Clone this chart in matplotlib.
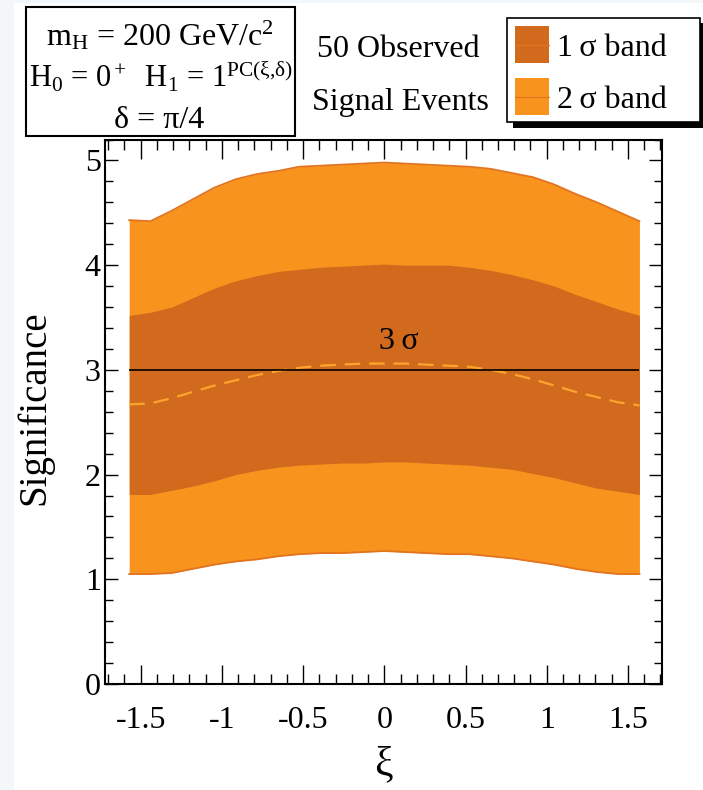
import numpy as np
import matplotlib
matplotlib.use('Agg')
import matplotlib.pyplot as plt
from matplotlib.patches import Rectangle
from matplotlib.ticker import MultipleLocator, FixedLocator, FixedFormatter

plt.rcParams['font.family'] = ['Liberation Serif', 'DejaVu Serif']
plt.rcParams['mathtext.fontset'] = 'custom'
plt.rcParams['mathtext.rm'] = 'Liberation Serif'
plt.rcParams['mathtext.it'] = 'Liberation Serif:italic'

# xi scan from -pi/2 to pi/2
xi = [-1.571, -1.440, -1.309, -1.178, -1.047, -0.916, -0.785, -0.654, -0.524,
      -0.393, -0.262, -0.131, 0.0, 0.131, 0.262, 0.393, 0.524, 0.654, 0.785,
      0.916, 1.047, 1.178, 1.309, 1.440, 1.571]

# 2 sigma band
two_hi = [4.43, 4.42, 4.52, 4.63, 4.74, 4.82, 4.87, 4.90, 4.94, 4.95, 4.96, 4.97, 4.98,
          4.97, 4.96, 4.95, 4.94, 4.92, 4.88, 4.84, 4.77, 4.68, 4.60, 4.51, 4.42]
two_lo = [1.05, 1.05, 1.06, 1.10, 1.14, 1.17, 1.19, 1.22, 1.24, 1.25, 1.25, 1.26, 1.27,
          1.26, 1.25, 1.24, 1.24, 1.22, 1.20, 1.17, 1.14, 1.10, 1.07, 1.05, 1.05]
# 1 sigma band
one_hi = [3.52, 3.55, 3.60, 3.69, 3.78, 3.85, 3.90, 3.94, 3.96, 3.98, 3.99, 4.00, 4.01,
          4.00, 4.00, 4.00, 3.98, 3.95, 3.91, 3.86, 3.80, 3.72, 3.65, 3.58, 3.52]
one_lo = [1.81, 1.81, 1.85, 1.89, 1.94, 2.00, 2.04, 2.07, 2.09, 2.10, 2.11, 2.11, 2.12,
          2.12, 2.11, 2.10, 2.09, 2.07, 2.05, 2.01, 1.97, 1.92, 1.87, 1.84, 1.81]
# median
median = [2.67, 2.68, 2.73, 2.79, 2.85, 2.90, 2.95, 2.99, 3.02, 3.04, 3.05, 3.06, 3.06,
          3.06, 3.05, 3.04, 3.03, 3.00, 2.96, 2.91, 2.85, 2.79, 2.74, 2.69, 2.66]
threshold = 3.0

xticks = [-1.5, -1.0, -0.5, 0.0, 0.5, 1.0, 1.5]
xticklabels = ['-1.5', '-1', '-0.5', '0', '0.5', '1', '1.5']

c1 = '#D16A1C'
c2 = '#F8931E'
cedge = '#E2741F'
cmed = '#FCA52C'

W, H = 703, 790
fig = plt.figure(figsize=(W / 100, H / 100), dpi=100, facecolor='#F4F7F9')


def fx(px):
    return px / W


def fy(py):
    return 1 - py / H


# white page area
fig.patches.append(Rectangle((fx(14), 0), 1, fy(3), transform=fig.transFigure,
                             facecolor='white', edgecolor='none', zorder=-10))

ax = fig.add_axes([fx(105), fy(684), fx(662) - fx(105), fy(139.5) - fy(684)])

ax.fill_between(xi, two_lo, two_hi, color=c2, lw=0, zorder=1)
ax.plot(xi, two_hi, color=cedge, lw=1.3, zorder=2)
ax.plot(xi, two_lo, color=cedge, lw=1.3, zorder=2)
ax.fill_between(xi, one_lo, one_hi, color=c1, lw=0, zorder=3)
ax.plot(xi, median, color=cmed, lw=1.6, dashes=(7, 4), zorder=4)
ax.hlines(threshold, xi[0], xi[-1], color='black', lw=1.2, zorder=5)
ax.text(0.09, 3.2, '3\u2009σ', fontsize=23, ha='center', va='baseline', zorder=6)

ax.set_xlim(-1.72, 1.71)
ax.set_ylim(0, 5.2)
ax.xaxis.set_major_locator(FixedLocator(xticks))
ax.xaxis.set_major_formatter(FixedFormatter(xticklabels))
ax.xaxis.set_minor_locator(MultipleLocator(0.1))
ax.yaxis.set_major_locator(MultipleLocator(1))
ax.yaxis.set_minor_locator(MultipleLocator(0.2))
ax.tick_params(axis='both', which='both', direction='in', top=True, right=True,
               labelsize=23, width=1.0, color='black')
ax.tick_params(axis='x', which='major', length=13.5, pad=16)
ax.tick_params(axis='x', which='minor', length=7)
ax.tick_params(axis='y', which='major', length=9.5, pad=3)
ax.tick_params(axis='y', which='minor', length=5.5)
for s in ax.spines.values():
    s.set_linewidth(1.5)

fig.text(fx(35), fy(408), 'Significance', fontsize=28, rotation=90,
         ha='center', va='center')
fig.text(fx(383), fy(765), 'ξ', fontsize=30, ha='center', va='center')

# parameter box
fig.patches.append(Rectangle((fx(26), fy(136)), fx(295) - fx(26), fy(7) - fy(136),
                             transform=fig.transFigure, facecolor='white',
                             edgecolor='black', lw=1.5, zorder=1))
fig.text(fx(160), fy(45), r'm$_\mathrm{H}$ = 200 GeV/c$^2$', fontsize=23,
         ha='center', va='baseline', zorder=2)
fig.text(fx(161), fy(87), r'H$_0$ = 0$^+$  H$_1$ = 1$^{\mathrm{PC(ξ{,}δ)}}$', fontsize=22,
         ha='center', va='baseline', zorder=2)
fig.text(fx(159), fy(128), 'δ = π/4', fontsize=23, ha='center', va='baseline', zorder=2)

fig.text(fx(398), fy(57), '50 Observed', fontsize=23, ha='center', va='baseline')
fig.text(fx(400), fy(110), 'Signal Events', fontsize=23, ha='center', va='baseline')

# legend with shadow
fig.patches.append(Rectangle((fx(513), fy(128)), fx(710) - fx(513), fy(23) - fy(128),
                             transform=fig.transFigure, facecolor='black',
                             edgecolor='none', zorder=1))
fig.patches.append(Rectangle((fx(507), fy(122)), fx(700) - fx(507), fy(18) - fy(122),
                             transform=fig.transFigure, facecolor='white',
                             edgecolor='black', lw=1.2, zorder=2))
for top, col, lab in [(26, c1, '1\u2009σ band'), (78, c2, '2\u2009σ band')]:
    fig.patches.append(Rectangle((fx(515), fy(top + 37)), fx(549) - fx(515),
                                 fy(top) - fy(top + 37), transform=fig.transFigure,
                                 facecolor=col, edgecolor='none', zorder=3))
    fig.lines.append(plt.Line2D([fx(515), fx(549)], [fy(top + 18.5)] * 2,
                                transform=fig.transFigure, color=cedge, lw=0.8,
                                zorder=4))
    fig.text(fx(557), fy(top + 18.5), lab, fontsize=23, ha='left', va='center_baseline',
             zorder=4)

fig.savefig('out.png', dpi=100, facecolor=fig.get_facecolor())
